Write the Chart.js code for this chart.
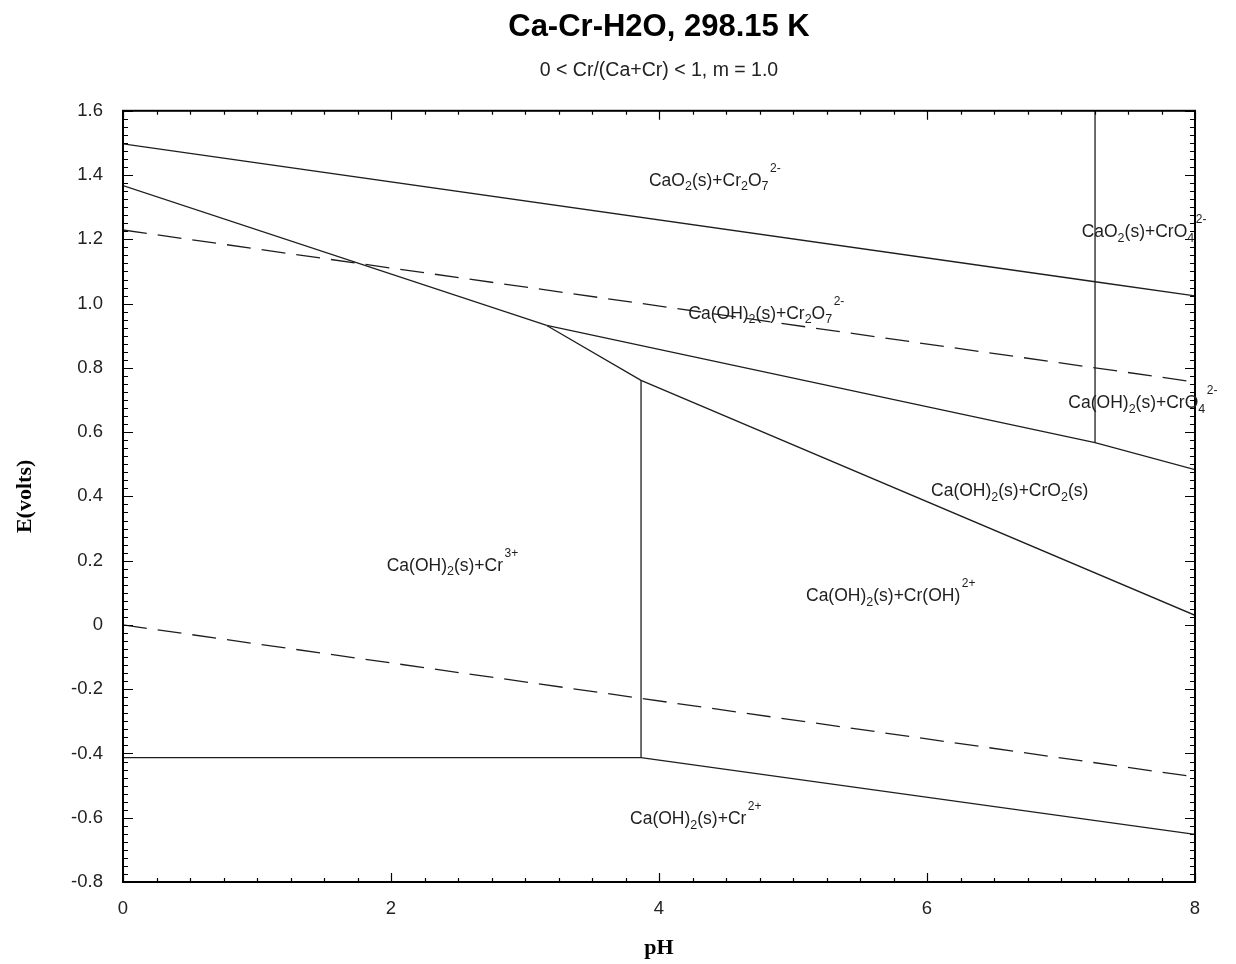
<!DOCTYPE html>
<html>
<head>
<meta charset="utf-8">
<title>Ca-Cr-H2O, 298.15 K</title>
<script src="https://cdn.jsdelivr.net/npm/chart.js@4.4.1/dist/chart.umd.min.js"></script>
<style>
  html, body { margin: 0; padding: 0; background: #fff; }
  #wrap { width: 1236px; height: 964px; }
</style>
</head>
<body>
<div id="wrap"><canvas id="pourbaix" width="1236" height="964"></canvas></div>
<script>
// axis ticks
const xTickValues = [0, 2, 4, 6, 8];
const yTickValues = [-0.8, -0.6, -0.4, -0.2, 0, 0.2, 0.4, 0.6, 0.8, 1.0, 1.2, 1.4, 1.6];

// water stability limits (dashed)
const o2PH = [0, 8];
const o2E = [1.229, 0.756];
const h2PH = [0, 8];
const h2E = [0.0, -0.473];

// phase boundaries (solid)
const peroxidePH = [0, 7.254, 8];
const peroxideE = [1.497, 1.068, 1.024];
const dichromatePH = [0, 3.162];
const dichromateE = [1.367, 0.932];
const cro2TopPH = [3.162, 7.254, 8];
const cro2TopE = [0.932, 0.567, 0.483];
const cro2BottomPH = [3.162, 3.866, 8];
const cro2BottomE = [0.932, 0.761, 0.030];
const chromatePH = [7.254, 7.254];
const chromateE = [1.6, 0.567];
const hydrolysisPH = [3.866, 3.866];
const hydrolysisE = [0.761, -0.413];
const cr2PH = [0, 3.866];
const cr2E = [-0.413, -0.413];
const cr2SlopePH = [3.866, 8];
const cr2SlopeE = [-0.413, -0.652];

// region labels: _x = subscript char, ^... = superscript to the end
const regionNames = [
  'CaO_2(s)+Cr_2O_7^2-',
  'CaO_2(s)+CrO_4^2-',
  'Ca(OH)_2(s)+Cr_2O_7^2-',
  'Ca(OH)_2(s)+CrO_4^2-',
  'Ca(OH)_2(s)+CrO_2(s)',
  'Ca(OH)_2(s)+Cr^3+',
  'Ca(OH)_2(s)+Cr(OH)^2+',
  'Ca(OH)_2(s)+Cr^2+'
];
const regionPH = [3.925, 7.154, 4.219, 7.055, 6.03, 1.968, 5.097, 3.784];
const regionE = [1.367, 1.206, 0.953, 0.674, 0.400, 0.168, 0.074, -0.620];

const ink = '#1e1e1e';
const sans = "'Liberation Sans', Arial, sans-serif";
const serif = "'Liberation Serif', 'Times New Roman', serif";

function pts(xs, ys) {
  return xs.map((v, i) => ({ x: v, y: ys[i] }));
}

function boundary(xs, ys, dashed) {
  return {
    data: pts(xs, ys),
    showLine: true,
    borderColor: ink,
    borderWidth: 1.3,
    borderDash: dashed ? [24, 11] : [],
    pointRadius: 0,
    fill: false,
    tension: 0
  };
}

function parseLabel(s) {
  const parts = [];
  let buf = '';
  for (let i = 0; i < s.length; i++) {
    const c = s[i];
    if (c === '_') {
      if (buf) parts.push({ t: buf, m: 0 });
      buf = '';
      parts.push({ t: s[i + 1], m: 1 });
      i++;
    } else if (c === '^') {
      if (buf) parts.push({ t: buf, m: 0 });
      buf = '';
      parts.push({ t: s.slice(i + 1), m: 2 });
      break;
    } else {
      buf += c;
    }
  }
  if (buf) parts.push({ t: buf, m: 0 });
  return parts;
}

// inner tick marks on all four sides plus the box frame
const frameTicks = {
  id: 'frameTicks',
  afterDatasetsDraw(chart) {
    const { ctx, chartArea: a, scales: { x, y } } = chart;
    ctx.save();
    ctx.strokeStyle = '#000';
    ctx.lineWidth = 1.2;
    ctx.beginPath();
    for (let i = 0; i <= 96; i++) {
      const py = Math.round(y.getPixelForValue(-0.8 + i * 0.025)) + 0.5;
      const len = i % 8 === 0 ? 10 : 5;
      ctx.moveTo(a.left, py); ctx.lineTo(a.left + len, py);
      ctx.moveTo(a.right, py); ctx.lineTo(a.right - len, py);
    }
    for (let i = 0; i <= 32; i++) {
      const px = Math.round(x.getPixelForValue(i * 0.25)) + 0.5;
      const len = i % 8 === 0 ? 9 : 4;
      ctx.moveTo(px, a.bottom); ctx.lineTo(px, a.bottom - len);
      ctx.moveTo(px, a.top); ctx.lineTo(px, a.top + len);
    }
    ctx.stroke();
    ctx.lineWidth = 2;
    ctx.strokeRect(a.left, a.top, a.right - a.left, a.bottom - a.top);
    ctx.restore();
  }
};

// species labels with sub/superscripts
const regionLabels = {
  id: 'regionLabels',
  afterDatasetsDraw(chart) {
    const { ctx, scales: { x, y } } = chart;
    ctx.save();
    ctx.fillStyle = ink;
    ctx.textBaseline = 'alphabetic';
    ctx.textAlign = 'left';
    regionNames.forEach((name, i) => {
      let px = x.getPixelForValue(regionPH[i]);
      const base = y.getPixelForValue(regionE[i]);
      parseLabel(name).forEach(p => {
        if (p.m === 0) {
          ctx.font = '17.5px ' + sans;
          ctx.fillText(p.t, px, base);
        } else if (p.m === 1) {
          ctx.font = '12.5px ' + sans;
          ctx.fillText(p.t, px, base + 4.5);
        } else {
          px += 1.5;
          ctx.font = '12px ' + sans;
          ctx.fillText(p.t, px, base - 14);
        }
        px += ctx.measureText(p.t).width;
      });
    });
    ctx.restore();
  }
};

new Chart(document.getElementById('pourbaix'), {
  type: 'scatter',
  data: {
    datasets: [
      boundary(o2PH, o2E, true),
      boundary(h2PH, h2E, true),
      boundary(peroxidePH, peroxideE),
      boundary(dichromatePH, dichromateE),
      boundary(cro2TopPH, cro2TopE),
      boundary(cro2BottomPH, cro2BottomE),
      boundary(chromatePH, chromateE),
      boundary(hydrolysisPH, hydrolysisE),
      boundary(cr2PH, cr2E),
      boundary(cr2SlopePH, cr2SlopeE)
    ]
  },
  options: {
    responsive: false,
    animation: false,
    layout: { padding: { left: 0, right: 41, top: 0, bottom: 0 } },
    plugins: {
      legend: { display: false },
      tooltip: { enabled: false },
      // fullSize off so both titles centre over the plot box
      title: {
        display: true,
        fullSize: false,
        text: 'Ca-Cr-H2O, 298.15 K',
        color: '#000',
        font: { family: sans, size: 31, weight: 'bold' },
        padding: { top: 9, bottom: 0 }
      },
      subtitle: {
        display: true,
        fullSize: false,
        text: '0 < Cr/(Ca+Cr) < 1, m = 1.0',
        color: '#222',
        font: { family: sans, size: 19.5 },
        padding: { top: 13, bottom: 28.2 }
      }
    },
    scales: {
      x: {
        type: 'linear',
        min: 0,
        max: 8,
        afterBuildTicks: axis => { axis.ticks = xTickValues.map(v => ({ value: v })); },
        afterFit: axis => { axis.height = 82; },
        grid: { display: false, drawTicks: false },
        border: { display: false },
        ticks: { color: '#222', padding: 16, font: { family: sans, size: 18.5 }, callback: v => String(v) },
        title: { display: true, text: 'pH', color: '#000', font: { family: serif, size: 22, weight: 'bold' }, padding: { top: 0, bottom: 2 } }
      },
      y: {
        type: 'linear',
        min: -0.8,
        max: 1.6,
        afterBuildTicks: axis => { axis.ticks = yTickValues.map(v => ({ value: v })); },
        afterFit: axis => { axis.width = 123; },
        grid: { display: false, drawTicks: false },
        border: { display: false },
        ticks: { color: '#222', padding: 20, font: { family: sans, size: 18.5 }, callback: v => v === 0 ? '0' : v.toFixed(1) },
        title: { display: true, text: 'E(volts)', color: '#000', font: { family: serif, size: 22, weight: 'bold' }, padding: { top: 12, bottom: 0 } }
      }
    }
  },
  plugins: [frameTicks, regionLabels]
});
</script>
</body>
</html>
